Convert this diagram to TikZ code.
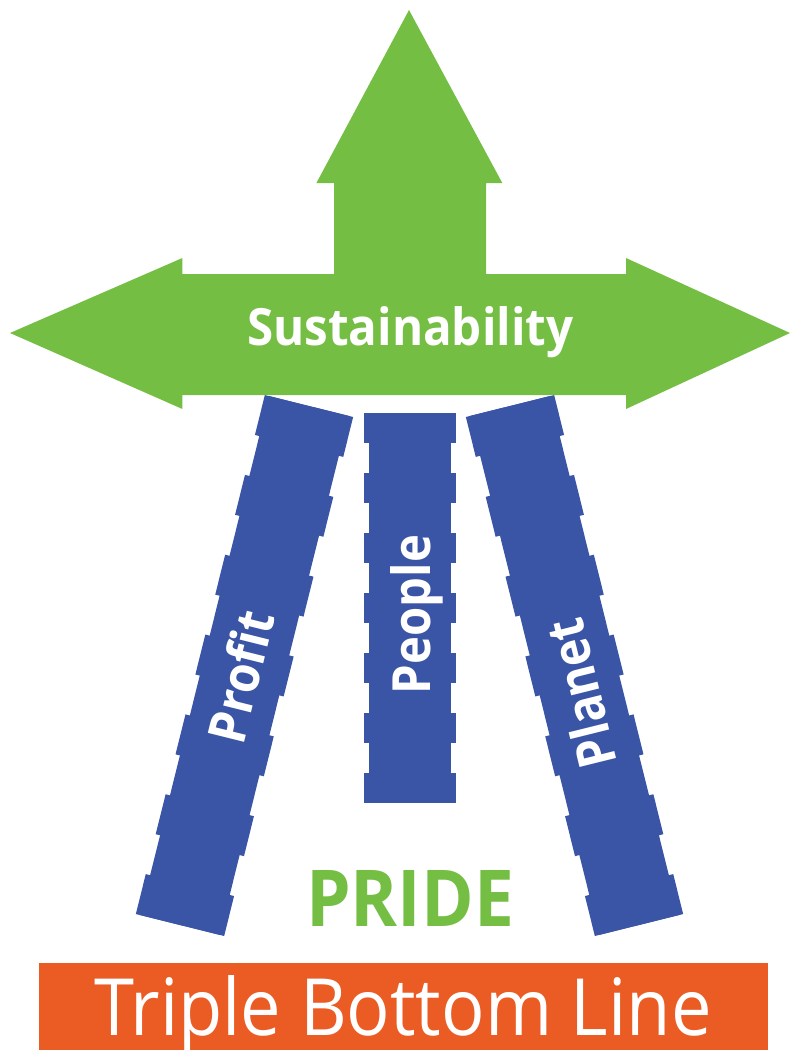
\documentclass[tikz,border=0pt]{standalone}
\usepackage{fontspec}
\setmainfont{Open Sans}
\usepackage{graphicx}
\definecolor{sgreen}{HTML}{75BE44}
\definecolor{pblue}{HTML}{3A55A5}
\definecolor{borange}{HTML}{EB5C24}
% #1 length, #2 half width, #3 inset, #4 number of segments (odd)
\newcommand\pillarshape[4]{%
  \fill[pblue] ({-#2+#3},0) rectangle ({#2-#3},#1);
  \pgfmathsetmacro\segl{#1/#4}%
  \pgfmathtruncatemacro\lastseg{#4-1}%
  \foreach \i in {0,2,...,\lastseg} {\fill[pblue] (-#2,{\i*\segl}) rectangle (#2,{(\i+1)*\segl});}%
}
\begin{document}
\begin{tikzpicture}[x=1pt,y=-1pt,
  lbl/.style={inner sep=0pt, text=white},
  plbl/.style={lbl, text height=37pt, text depth=0pt, anchor=center}]
\useasboundingbox (0,0) rectangle (790,1050);
% pillars
\begin{scope}[shift={(309,406)}, rotate=-13.96]
  \pillarshape{534.8}{45.5}{4.5}{13}
\end{scope}
\begin{scope}[shift={(510,406)}, rotate=13.96]
  \pillarshape{534.8}{45.5}{4.5}{13}
\end{scope}
\begin{scope}[shift={(410,413)}]
  \pillarshape{390}{46}{5}{13}
\end{scope}
% sustainability arrow
\fill[sgreen] (409,10) -- (502.3,183) -- (486,183) -- (486,274) -- (626,274) -- (626,258)
  -- (790,333) -- (626,409) -- (626,395) -- (182.4,395) -- (182.4,409) -- (10,333)
  -- (182.4,258) -- (182.4,274) -- (334,274) -- (334,183) -- (316.4,183) -- cycle;
% bottom bar
\fill[borange] (39,963) rectangle (768,1050);
% texts
\node[lbl, anchor=base west] (sus) at (247,345) {\resizebox{326pt}{39pt}{\bfseries Sustainability}};
\node[plbl, rotate=76.04] (profit) at (241.8,676.5) {\resizebox{134pt}{40pt}{\bfseries Profit}};
\node[plbl, rotate=90] (people) at (411.5,614.5) {\resizebox{159pt}{40pt}{\bfseries People}};
\node[plbl, rotate=103.96] (planet) at (581.7,693.5) {\resizebox{151pt}{40pt}{\bfseries Planet}};
\node[inner sep=0pt, anchor=base west, text=sgreen] (pride) at (306,926) {\resizebox{208pt}{56pt}{\bfseries PRIDE}};
\node[lbl, anchor=base west] (tbl) at (94,1035) {\resizebox{617pt}{60pt}{Triple Bottom Line}};
\end{tikzpicture}
\end{document}
